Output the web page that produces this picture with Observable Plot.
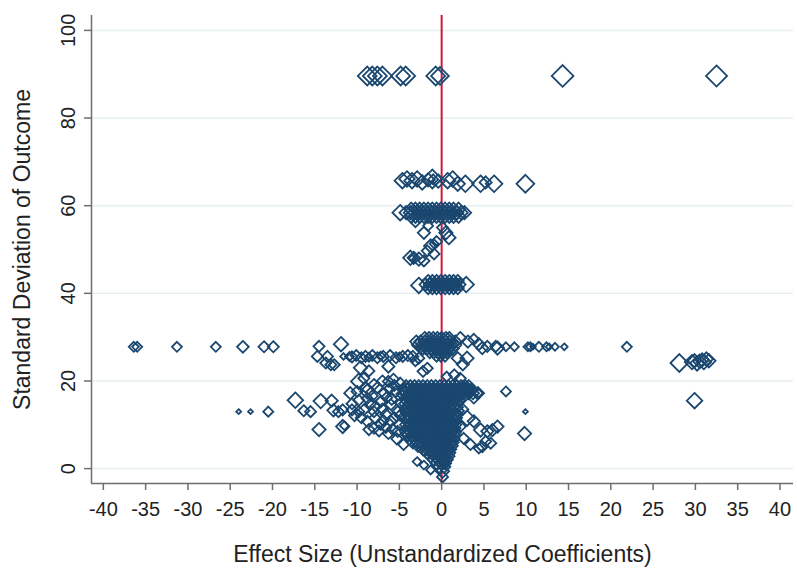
<!DOCTYPE html>
<html><head><meta charset="utf-8">
<script src="https://cdn.jsdelivr.net/npm/d3@7"></script>
<script src="https://cdn.jsdelivr.net/npm/@observablehq/plot@0.6"></script>
<style>body{margin:0;background:#fff;}</style>
</head><body><div id="chart"></div>
<script>
const xTicks = [-40,-35,-30,-25,-20,-15,-10,-5,0,5,10,15,20,25,30,35,40];
const yTicks = [0,20,40,60,80,100];
const xTitle = "Effect Size (Unstandardized Coefficients)";
const yTitle = "Standard Deviation of Outcome";

// individual markers: [effect, sd, marker radius]
const row90 = [[-8.8,89.6,8.5],[-8.2,89.6,8.5],[-7.6,89.6,8.5],[-7.0,89.6,8.5],[-4.85,89.6,8.5],[-4.25,89.6,8.5],[-0.7,89.6,8.5],[-0.2,89.6,8],[14.3,89.6,9.8],[32.5,89.6,9.5]];
const row66 = [[-4.65,65.7,7],[-4.1,66.1,7],[-3.5,65.7,7],[-2.9,66.1,7],[-2.3,65.3,6.5],[-1.6,65.9,6],[-1.1,66.1,8.5],[-1.0,66.0,4.5],[-0.4,65.6,6],[0.7,65.7,7],[1.3,66.1,7],[1.9,65.0,6.5],[2.8,65.0,7.5],[4.6,65.0,7.5],[5.2,65.3,5.5],[6.2,65.0,7.5],[9.9,65.0,8]];
const mid50 = [[-4.9,58.4,7],[-3.1,56.1,4],[-2.1,53.8,5.5],[-1.3,50.8,6],[-0.9,51.3,4],[-0.6,51.8,5],[0.5,53.8,6],[0.86,52.7,6],[-1.7,49.7,5],[-0.9,49.0,5],[0.1,55.0,5],[-1.6,55.4,4.5],
  [-3.7,48.1,6.5],[-3.3,48.1,5.5],[-3.5,48.0,3],[-2.7,47.8,6],[-2.1,47.4,5],[-2.7,41.8,7],[2.9,42.0,7]];
const row28left = [[-36.4,27.8,4.5],[-36.0,27.8,4.5],[-31.3,27.8,4.5],[-26.7,27.8,4.5],[-23.5,27.8,5.3],[-21.0,27.8,5],[-19.9,27.8,5],[-14.5,27.9,5],[-11.9,28.4,6.5],
  [-14.7,25.6,5],[-13.5,25.6,5],[-13.1,23.7,5],[-12.7,23.7,5],[-13.7,24.1,5],[-11.6,25.6,3],[-10.9,25.6,4],[-10.6,25.5,5],[-10.1,25.8,5],[-9.5,25.3,5],[-9.0,25.6,5],[-8.6,25.4,4],[-8.2,25.8,5],[-7.6,25.3,5],[-7.2,25.7,4],[-6.9,25.6,5],[-6.1,25.8,5],[-5.4,25.3,5],[-5.0,25.5,4],[-4.6,25.6,5],[-4.0,25.8,5],[-3.4,25.6,5],[-9.6,23.0,6],[-6.3,23.3,5.5],
  [-2.7,25.2,5],[-2.2,22.2,5],[-1.7,22.9,5],[-3.1,24.5,4.5]];
const row28right = [[2.2,29.8,5.5],[3.1,29.0,5.5],[3.8,29.5,5],[4.4,28.4,5.5],[4.8,27.5,5.5],[5.4,27.9,5],[6.4,27.9,5],[6.6,27.5,6],[7.6,27.8,4],[8.6,27.8,4],[3.0,25.2,6],[1.9,25.2,5.5],[2.5,23.8,5.5],
  [10.2,27.8,4],[10.5,27.8,4],[10.8,27.8,2.5],[11.5,27.8,4.5],[12.4,27.8,4],[12.7,27.8,3],[13.4,27.8,3.5],[14.5,27.8,3],[21.9,27.8,4.5],
  [28.1,24.1,8],[29.6,24.3,6.5],[29.9,24.6,6],[30.2,24.0,6.5],[30.5,24.5,6],[30.8,24.8,6],[31.0,24.3,6.5],[31.3,25.0,6],[31.6,24.6,6],[29.9,15.5,7],
  [7.6,17.6,4.5],[9.9,13.0,2.2],[9.8,8.0,6]];
const lowRight = [[1.4,17.6,5],[2.6,18.4,5.5],[4.2,17.2,5],[3.8,16.1,5],[3.4,18.0,5],[3.0,11.5,7],[3.8,10.8,5.5],[4.6,8.8,6],[5.4,8.5,5.5],[6.0,8.8,5.5],[6.6,9.6,5.5],[2.6,6.9,5],[3.4,5.5,5],[4.4,4.6,4.5],[4.8,5.0,5],[5.8,5.8,5],[5.2,6.2,5],[2.2,9.6,5],[2.5,13.5,5],[1.5,21.4,5],[0.6,21.0,4.5],[2.2,20.6,5]];
const lowLeft = [[-17.3,15.6,7],[-16.3,13.2,5],[-15.5,13.0,5],[-14.5,8.9,6],[-14.3,15.4,6.5],[-13.0,15.5,5.5],[-12.8,13.3,5.5],[-12.2,13.0,5],[-11.7,13.4,5],[-11.7,9.6,6],[-11.5,9.8,4],[-10.8,17.2,5.5],[-9.8,19.9,7],[-8.8,17.6,6.5],[-10.6,13.4,5],[-9.8,13.0,5],[-9.2,13.4,5],[-8.6,8.9,5],[-8.0,9.2,5],
  [-24.0,13.0,2.2],[-22.6,13.0,2.2],[-20.5,13.0,4.5],
  [-9.2,20.6,5],[-8.0,19.2,5],[-5.7,20.4,5],[-4.9,19.5,5],[-8.8,16.0,5],[-7.2,15.3,5],[-8.0,13.0,5],[-6.0,14.6,5],[-5.2,13.0,5],[-8.8,10.8,5],[-7.2,10.1,5],[-6.0,10.8,5],[-5.2,8.5,5],[-4.5,5.5,5],
  [-7.6,18.5,5],[-6.8,17.2,5],[-6.3,19.9,5],[-5.4,17.6,5],[-7.8,14.2,5],[-6.6,12.4,5],[-5.6,11.6,5],[-7.4,8.6,5],[-6.3,8.0,5],[-5.3,6.8,5],[-6.9,11.0,5],[-9.5,11.6,5],[-10.3,12.1,5],[-10.6,14.8,5],[-9.8,15.6,5],[-8.2,16.6,5],[-4.8,15.0,5],[-5.0,10.0,5],[-5.6,19.0,5],[-7.0,20.0,5],[-8.6,22.3,5],
  [-6.5,16.2,5],[-7.0,13.6,5],[-5.9,15.8,5],[-6.2,18.2,5],[-7.9,11.6,5],[-6.6,9.4,5],[-5.8,9.0,5],[-4.9,12.2,5],[-4.7,17.0,5],[-8.4,14.8,5],[-9.0,18.6,5],[-10.0,17.6,5],
  [-2.9,1.6,4],[-2.1,0.8,4],[-1.3,-0.3,4],[0.1,-0.6,6],[0.1,-1.9,5]];

// dense clusters, read row by row: sd level and the effects on it
const blob58Y = [59.2, 58.4, 57.6];
const blob58X = [
  [-3.6,-3.1,-2.6,-2.1,-1.6,-1.1,-0.6,-0.1,0.4,0.9,1.4,2.0],
  [-4.2,-3.7,-3.2,-2.7,-2.2,-1.7,-1.2,-0.7,-0.2,0.3,0.8,1.3,1.8,2.3,2.7],
  [-3.6,-3.1,-2.6,-2.1,-1.6,-1.1,-0.6,-0.1,0.4,0.9,1.4,2.0]];
const blob42Y = [42.8, 42.0, 41.2];
const blob42X = [
  [-1.6,-1.1,-0.6,-0.1,0.4,0.9,1.4,1.9],
  [-1.9,-1.4,-0.9,-0.4,0.1,0.6,1.1,1.6,2.1],
  [-1.6,-1.1,-0.6,-0.1,0.4,0.9,1.4,1.9]];
const blob28Y = [29.8, 29.0, 28.2, 27.4, 26.6, 25.8];
const blob28X = [
  [-2.0,-1.5,-1.0,-0.5,0,0.5,0.9],
  [-3.0,-2.5,-2.0,-1.5,-1.0,-0.5,0,0.5,1.0,1.6],
  [-2.8,-2.3,-1.8,-1.3,-0.8,-0.3,0.2,0.7,1.2,1.6],
  [-2.2,-1.7,-1.2,-0.7,-0.2,0.3,0.8,1.3],
  [-1.4,-0.9,-0.4,0.1,0.6],
  [-0.6,-0.1,0.4]];
const blobLowY = [18.8,18.0,17.2,16.4,15.6,14.8,14.0,13.2,12.4,11.6,10.8,10.0,9.2,8.4,7.6,6.8,6.0,5.2,4.4,3.6,2.8,2.0,1.2,0.4];
const blobLowX = [
  [-4.2,-3.7,-3.2,-2.7,-2.2,-1.7,-1.2,-0.7,-0.2,0.3,0.8,1.3,1.8,2.3,2.8,3.2],
  [-4.5,-4.0,-3.5,-3.0,-2.5,-2.0,-1.5,-1.0,-0.5,0,0.5,1.0,1.5,2.0,2.5,3.0,3.6],
  [-4.3,-3.8,-3.3,-2.8,-2.3,-1.8,-1.3,-0.8,-0.3,0.2,0.7,1.2,1.7,2.2,2.7,3.2,3.7,4.3],
  [-4.0,-3.5,-3.0,-2.5,-2.0,-1.5,-1.0,-0.5,0,0.5,1.0,1.5,2.0,2.6],
  [-4.2,-3.7,-3.2,-2.7,-2.2,-1.7,-1.2,-0.7,-0.2,0.3,0.8,1.3,2.0],
  [-4.3,-3.8,-3.3,-2.8,-2.3,-1.8,-1.3,-0.8,-0.3,0.2,0.7,1.2,1.8],
  [-4.1,-3.6,-3.1,-2.6,-2.1,-1.6,-1.1,-0.6,-0.1,0.4,0.9,1.4,1.8],
  [-4.3,-3.8,-3.3,-2.8,-2.3,-1.8,-1.3,-0.8,-0.3,0.2,0.7,1.2,1.9],
  [-4.0,-3.5,-3.0,-2.5,-2.0,-1.5,-1.0,-0.5,0,0.5,1.0,1.4,1.8],
  [-4.2,-3.7,-3.2,-2.7,-2.2,-1.7,-1.2,-0.7,-0.2,0.3,0.8,1.3,1.7],
  [-4.0,-3.5,-3.0,-2.5,-2.0,-1.5,-1.0,-0.5,0,0.5,1.0,1.6],
  [-4.2,-3.7,-3.2,-2.7,-2.2,-1.7,-1.2,-0.7,-0.2,0.3,0.8,1.2,1.6],
  [-4.1,-3.6,-3.1,-2.6,-2.1,-1.6,-1.1,-0.6,-0.1,0.4,0.9,1.5],
  [-4.2,-3.7,-3.2,-2.7,-2.2,-1.7,-1.2,-0.7,-0.2,0.3,0.8,1.2,1.6],
  [-4.0,-3.5,-3.0,-2.5,-2.0,-1.5,-1.0,-0.5,0,0.5,1.0,1.5],
  [-3.8,-3.3,-2.8,-2.3,-1.8,-1.3,-0.8,-0.3,0.2,0.7,1.0,1.4],
  [-3.4,-2.9,-2.4,-1.9,-1.4,-0.9,-0.4,0.1,0.6,1.0,1.3],
  [-2.8,-2.3,-1.8,-1.3,-0.8,-0.3,0.2,0.7,1.2],
  [-2.2,-1.7,-1.2,-0.7,-0.2,0.3,0.7,1.0],
  [-1.7,-1.2,-0.7,-0.2,0.3,0.9],
  [-1.3,-0.8,-0.3,0.2,0.8],
  [-0.9,-0.4,0.1,0.6],
  [-0.6,-0.1,0.4],
  [-0.3,0.3]];

const singles = [...row90, ...row66, ...mid50, ...row28left, ...row28right, ...lowRight, ...lowLeft]
  .map(([x, y, r]) => ({x, y, r}));
function rowsToPoints(ys, xs, r) {
  const out = [];
  ys.forEach((y, i) => xs[i].forEach(x => out.push({x, y, r})));
  return out;
}
const dense = [
  ...rowsToPoints(blob58Y, blob58X, 6),
  ...rowsToPoints(blob42Y, blob42X, 5.5),
  ...rowsToPoints(blob28Y, blob28X, 5.5),
  ...rowsToPoints(blobLowY, blobLowX, 5.5)];
const points = [...singles, ...dense];

const navy = "#1a476f";
const chart = Plot.plot({
  width: 797, height: 571,
  marginLeft: 91, marginRight: 4, marginTop: 15, marginBottom: 88,
  style: {fontFamily: "'Liberation Sans', Arial, Helvetica, sans-serif", background: "#fff", color: "#222"},
  x: {domain: [-41.4, 41.6], label: null},
  y: {domain: [-3.4, 103.4], label: null},
  r: {type: "linear", domain: [0, 10], range: [0, 10]},
  marks: [
    Plot.ruleY(yTicks, {stroke: "#e6eff1", strokeWidth: 1.5}),
    Plot.ruleX([0], {stroke: "#d4163c", strokeWidth: 2}),
    Plot.dot(points, {x: "x", y: "y", r: "r", symbol: "diamond2", stroke: navy, strokeWidth: 1.8, fill: "none"}),
    Plot.ruleX([-41.4], {stroke: "#6e6e6e", strokeWidth: 1.5}),
    Plot.ruleY([-3.4], {stroke: "#6e6e6e", strokeWidth: 1.5}),
    Plot.axisX(xTicks, {tickSize: 7, tickPadding: 11, fontSize: 20, tickFormat: d => String(d), stroke: "#6e6e6e", strokeWidth: 1.5, fill: "#222", label: null}),
    Plot.axisY(yTicks, {tickSize: 7, tickFormat: () => "", stroke: "#6e6e6e", strokeWidth: 1.5, label: null}),
    Plot.text(yTicks, {y: d => d, frameAnchor: "left", dx: -23, rotate: -90, text: d => String(d), textAnchor: "middle", lineAnchor: "middle", fontSize: 20, fill: "#222"}),
    Plot.text([xTitle], {frameAnchor: "bottom", dy: 71, text: d => d, fontSize: 23, textAnchor: "middle", lineAnchor: "middle", fill: "#222"}),
    Plot.text([yTitle], {frameAnchor: "left", dx: -69, rotate: -90, text: d => d, fontSize: 23, textAnchor: "middle", lineAnchor: "middle", fill: "#222"})
  ]
});
document.getElementById("chart").appendChild(chart);
</script>
</body></html>
